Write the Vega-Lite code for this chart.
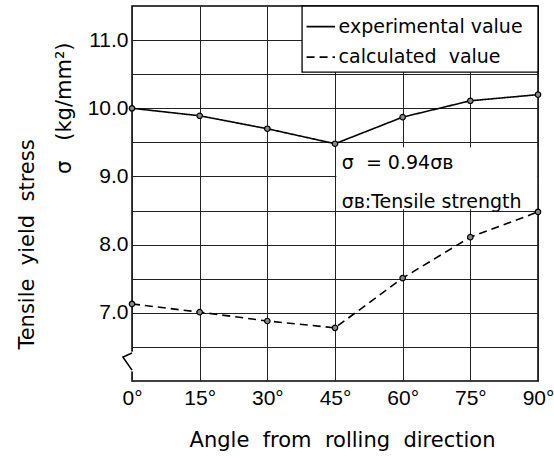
{
  "$schema": "https://vega.github.io/schema/vega-lite/v6.json",
  "width": 406,
  "height": 375,
  "autosize": {"type": "none"},
  "padding": {"left": 132, "top": 6, "right": 16, "bottom": 77},
  "background": "white",
  "config": {"view": {"stroke": "black", "strokeWidth": 1.5}, "font": "DejaVu Sans"},
  "datasets": {
    "stress": [
      {"angle": 0, "stress": 10.0, "series": "experimental value"},
      {"angle": 15, "stress": 9.89, "series": "experimental value"},
      {"angle": 30, "stress": 9.7, "series": "experimental value"},
      {"angle": 45, "stress": 9.48, "series": "experimental value"},
      {"angle": 60, "stress": 9.87, "series": "experimental value"},
      {"angle": 75, "stress": 10.11, "series": "experimental value"},
      {"angle": 90, "stress": 10.2, "series": "experimental value"},
      {"angle": 0, "stress": 7.13, "series": "calculated value"},
      {"angle": 15, "stress": 7.01, "series": "calculated value"},
      {"angle": 30, "stress": 6.88, "series": "calculated value"},
      {"angle": 45, "stress": 6.78, "series": "calculated value"},
      {"angle": 60, "stress": 7.51, "series": "calculated value"},
      {"angle": 75, "stress": 8.11, "series": "calculated value"},
      {"angle": 90, "stress": 8.48, "series": "calculated value"}
    ],
    "legendbox": [{"angle": 37.7, "x2": 90, "stress": 11.5, "y2": 10.53}],
    "notebox": [{"angle": 45.3, "x2": 89.8, "stress": 9.43, "y2": 8.52}],
    "legend": [
      {"angle": 38.7, "x2": 45.0, "stress": 11.197, "tx": 45.8, "label": "experimental value", "series": "experimental value"},
      {"angle": 38.7, "x2": 45.0, "stress": 10.75, "tx": 45.8, "label": "calculated\u00a0 value", "series": "calculated value"}
    ],
    "notes": [
      {"angle": 46.5, "stress": 9.2, "label": "σ\u00a0 = 0.94σʙ"},
      {"angle": 46.5, "stress": 8.63, "label": "σʙ:Tensile strength"}
    ],
    "unit": [{"angle": -14.85, "stress": 10.0, "label": "σ\u00a0\u00a0 (kg/mm²)"}],
    "gap": [{"angle": 0, "stress": 6.43, "y2": 6.14}],
    "zigzag": [
      {"angle": 0, "stress": 6.41, "o": 1},
      {"angle": -2, "stress": 6.35, "o": 2},
      {"angle": 0, "stress": 6.16, "o": 3}
    ]
  },
  "encoding": {
    "x": {
      "field": "angle", "type": "quantitative",
      "scale": {"domain": [0, 90], "nice": false, "zero": false},
      "axis": {
        "values": [0, 15, 30, 45, 60, 75, 90],
        "labelExpr": "datum.value + '°'",
        "labelFlush": false, "labelBound": false, "labelOverlap": false,
        "grid": true, "gridColor": "#222", "gridWidth": 1,
        "ticks": false, "domain": false,
        "labelFont": "Liberation Sans", "labelFontSize": 21, "labelColor": "black", "labelPadding": 6,
        "title": "Angle\u00a0 from\u00a0 rolling\u00a0 direction",
        "titleFont": "DejaVu Sans", "titleFontSize": 21, "titleFontWeight": "normal", "titleColor": "black",
        "titleX": 210, "titleY": 59, "titleBaseline": "middle", "titleAlign": "center"
      }
    },
    "y": {
      "field": "stress", "type": "quantitative",
      "scale": {"domain": [6, 11.5], "nice": false, "zero": false},
      "axis": {
        "values": [6.5, 7, 7.5, 8, 8.5, 9, 9.5, 10, 10.5, 11],
        "labelExpr": "datum.value % 1 == 0 ? format(datum.value, '.1f') : ''",
        "grid": true, "gridColor": "#222", "gridWidth": 1,
        "ticks": false, "domain": false,
        "labelFont": "Liberation Sans", "labelFontSize": 21, "labelColor": "black", "labelPadding": 4,
        "title": "Tensile\u00a0 yield\u00a0 stress",
        "titleFont": "DejaVu Sans", "titleFontSize": 21, "titleFontWeight": "normal", "titleColor": "black",
        "titleX": -105, "titleY": 238, "titleAngle": 270, "titleBaseline": "middle", "titleAlign": "center"
      }
    }
  },
  "layer": [
    {
      "data": {"name": "legendbox"},
      "mark": {"type": "rect", "fill": "white", "stroke": "black", "strokeWidth": 1.3},
      "encoding": {"x2": {"field": "x2"}, "y2": {"field": "y2"}}
    },
    {
      "data": {"name": "notebox"},
      "mark": {"type": "rect", "fill": "white"},
      "encoding": {"x2": {"field": "x2"}, "y2": {"field": "y2"}}
    },
    {
      "data": {"name": "stress"},
      "mark": {"type": "line", "color": "black", "strokeWidth": 1.6},
      "encoding": {
        "strokeDash": {
          "field": "series", "type": "nominal",
          "scale": {"domain": ["experimental value", "calculated value"], "range": [[1, 0], [8, 5]]},
          "legend": null
        }
      }
    },
    {
      "data": {"name": "stress"},
      "mark": {"type": "point", "shape": "circle", "filled": true, "fill": "#888", "stroke": "black", "strokeWidth": 1.2, "size": 30, "opacity": 1},
      "encoding": {}
    },
    {
      "data": {"name": "legend"},
      "mark": {"type": "rule", "color": "black", "strokeWidth": 1.6},
      "encoding": {
        "x2": {"field": "x2"},
        "strokeDash": {
          "field": "series", "type": "nominal",
          "scale": {"domain": ["experimental value", "calculated value"], "range": [[1, 0], [8, 5]]},
          "legend": null
        }
      }
    },
    {
      "data": {"name": "legend"},
      "mark": {"type": "text", "align": "left", "baseline": "middle", "font": "DejaVu Sans", "fontSize": 19, "color": "black"},
      "encoding": {
        "x": {"field": "tx", "type": "quantitative"},
        "text": {"field": "label"}
      }
    },
    {
      "data": {"name": "notes"},
      "mark": {"type": "text", "align": "left", "baseline": "middle", "font": "DejaVu Sans", "fontSize": 19, "color": "black"},
      "encoding": {"text": {"field": "label"}}
    },
    {
      "data": {"name": "unit"},
      "mark": {"type": "text", "align": "center", "baseline": "middle", "angle": 270, "font": "DejaVu Sans", "fontSize": 21, "color": "black"},
      "encoding": {"text": {"field": "label"}}
    },
    {
      "data": {"name": "gap"},
      "mark": {"type": "rule", "color": "white", "strokeWidth": 3},
      "encoding": {"y2": {"field": "y2"}}
    },
    {
      "data": {"name": "zigzag"},
      "mark": {"type": "line", "color": "black", "strokeWidth": 1.6},
      "encoding": {"order": {"field": "o"}}
    }
  ]
}
